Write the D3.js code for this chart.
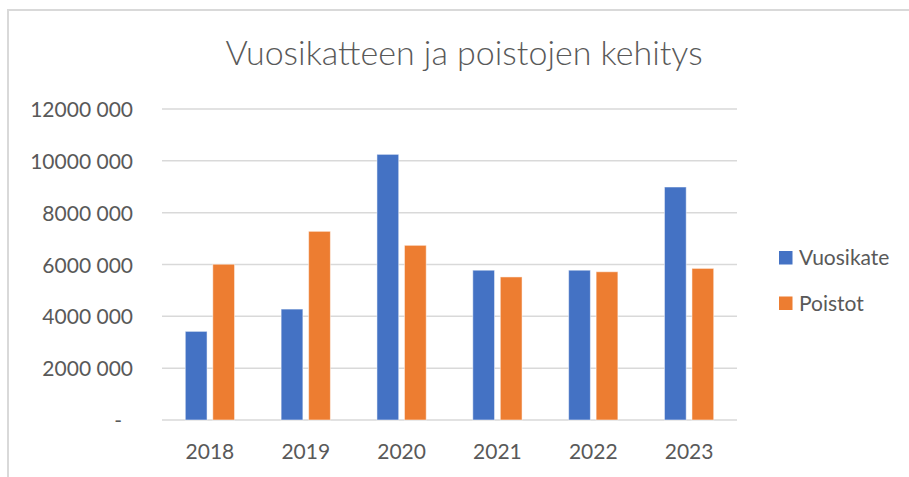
<!DOCTYPE html>
<html>
<head>
<meta charset="utf-8">
<script src="https://cdn.jsdelivr.net/npm/d3@7"></script>
<style>
	body { margin: 0; background: #fff; }
	text { font-family: Lato, "Open Sans", sans-serif; fill: #595959; }
</style>
</head>
<body>
<script>
//chart data
var years = ["2018", "2019", "2020", "2021", "2022", "2023"];
var vuosikate = [3420000, 4280000, 10250000, 5780000, 5780000, 8990000];
var poistot = [6010000, 7280000, 6740000, 5520000, 5720000, 5850000];
var seriesNames = ["Vuosikate", "Poistot"];
var seriesColors = ["#4472C4", "#ED7D31"];
var yTicks = [0, 2000000, 4000000, 6000000, 8000000, 10000000, 12000000];

window.onload = drawChart();

function drawChart(){

	var width = 909,
		height = 477;

	var svg = d3.select("body")
		.append("svg")
		.attr("width", width)
		.attr("height", height);

	//chart area border (runs off right and bottom)
	svg.append("path")
		.attr("d", "M8,477 V10 H909")
		.attr("fill", "none")
		.attr("stroke", "#d9d9d9")
		.attr("stroke-width", 2);

	//title
	svg.append("text")
		.attr("x", 464)
		.attr("y", 65)
		.attr("text-anchor", "middle")
		.style("font-size", "34px")
		.style("font-weight", 300)
		.text("Vuosikatteen ja poistojen kehitys");

	//plot area
	var left = 162, right = 737, top = 109, bottom = 420;

	var x = d3.scaleBand()
		.domain(years)
		.range([left, right]);

	var y = d3.scaleLinear()
		.domain([0, 12000000])
		.range([bottom, top]);

	//format like "12000 000"
	function fmt(v){
		if (v === 0) return "-";
		var s = String(v);
		return s.slice(0, s.length - 3) + " " + s.slice(-3);
	}

	//gridlines
	svg.selectAll(".grid")
		.data(yTicks)
		.enter()
		.append("line")
		.attr("class", "grid")
		.attr("x1", left)
		.attr("x2", right)
		.attr("y1", function(d){ return y(d); })
		.attr("y2", function(d){ return y(d); })
		.attr("stroke", "#d9d9d9")
		.attr("stroke-width", 1.5);

	//y axis labels
	var yAxis = d3.axisLeft(y)
		.tickValues(yTicks)
		.tickFormat(fmt)
		.tickSize(0)
		.tickPadding(0);

	var yG = svg.append("g")
		.attr("transform", "translate(133,0)")
		.call(yAxis);
	yG.select(".domain").remove();
	yG.selectAll("text")
		.attr("dy", "0.36em")
		.attr("x", function(d){ return d === 0 ? -11 : 0; })
		.style("font-size", "21px")
		.style("font-family", "Lato, sans-serif")
		.attr("fill", "#595959");

	//x axis labels
	var xAxis = d3.axisBottom(x)
		.tickSize(0)
		.tickPadding(0);

	var xG = svg.append("g")
		.attr("transform", "translate(0,443)")
		.call(xAxis);
	xG.select(".domain").remove();
	xG.selectAll("text")
		.attr("dy", "0.76em")
		.style("font-size", "21px")
		.style("font-family", "Lato, sans-serif")
		.attr("fill", "#595959");

	//inner band for the two series
	var bw = x.bandwidth();
	var barW = bw * 0.227,
		barGap = bw * 0.06;

	var rows = years.map(function(yr, i){
		return { year: yr, values: [vuosikate[i], poistot[i]] };
	});

	var groups = svg.selectAll(".group")
		.data(rows)
		.enter()
		.append("g")
		.attr("class", "group")
		.attr("transform", function(d){
			return "translate(" + (x(d.year) + bw / 2) + ",0)";
		});

	groups.selectAll("rect")
		.data(function(d){ return d.values; })
		.enter()
		.append("rect")
		.attr("x", function(d, i){
			return i === 0 ? -barGap / 2 - barW : barGap / 2;
		})
		.attr("y", function(d){ return y(d); })
		.attr("width", barW)
		.attr("height", function(d){ return bottom - y(d); })
		.attr("fill", function(d, i){ return seriesColors[i]; })
		.attr("stroke", "#ffffff")
		.attr("stroke-opacity", 0.5)
		.attr("stroke-width", 1);

	//legend
	var legend = svg.selectAll(".legend")
		.data(seriesNames)
		.enter()
		.append("g")
		.attr("class", "legend")
		.attr("transform", function(d, i){
			return "translate(779," + (251 + i * 45.5) + ")";
		});

	legend.append("rect")
		.attr("width", 13.5)
		.attr("height", 13.5)
		.attr("fill", function(d, i){ return seriesColors[i]; });

	legend.append("text")
		.attr("x", 20)
		.attr("y", 14)
		.style("font-size", "21px")
		.text(function(d){ return d; });
};
</script>
</body>
</html>
